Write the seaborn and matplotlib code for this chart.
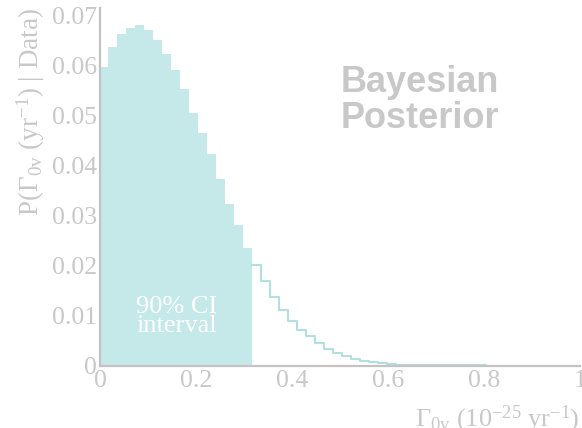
import matplotlib
matplotlib.use("Agg")
import matplotlib.pyplot as plt
import seaborn as sns
import pandas as pd
from matplotlib.ticker import MultipleLocator

# Posterior histogram (bin width 0.01875, first edge slightly below 0)
bin_start = -0.0015
bin_width = 0.01875
ci_values = [0.0599, 0.0637, 0.0664, 0.0677, 0.0682, 0.0672, 0.0652, 0.0624,
             0.0592, 0.0553, 0.0507, 0.0467, 0.0424, 0.0375, 0.0325, 0.0282,
             0.0237]
tail_values = [0.0203, 0.0171, 0.0139, 0.0113, 0.0090, 0.0072, 0.0060, 0.0047,
               0.0035, 0.0027, 0.0021, 0.0015, 0.0011, 0.0008, 0.0006, 0.0004,
               0.0003, 0.00025, 0.0002, 0.0002, 0.00018, 0.00016, 0.00015,
               0.00014, 0.00013, 0.00012]

x_ticks = [0, 0.2, 0.4, 0.6, 0.8, 1]
x_tick_labels = ["0", "0.2", "0.4", "0.6", "0.8", "1"]
y_ticks = [0, 0.01, 0.02, 0.03, 0.04, 0.05, 0.06, 0.07]
y_tick_labels = ["0", "0.01", "0.02", "0.03", "0.04", "0.05", "0.06", "0.07"]

GRAY = "#c8c8c8"
AXIS = "#c6c2c2"
FILL = "#c5e8e9"
LINE = "#b2dfe0"

sns.set_style("white")
plt.rcParams["font.family"] = ["Liberation Serif", "DejaVu Serif"]
plt.rcParams["mathtext.fontset"] = "custom"
plt.rcParams["mathtext.rm"] = "Liberation Serif"
plt.rcParams["mathtext.it"] = "Liberation Serif:italic"

n_ci = len(ci_values)
n_all = n_ci + len(tail_values)
edges = [bin_start + bin_width * i for i in range(n_all + 1)]
centers = [(edges[i] + edges[i + 1]) / 2 for i in range(n_all)]

ci_df = pd.DataFrame({"rate": centers[:n_ci], "p": ci_values})
tail_df = pd.DataFrame({"rate": centers[n_ci:], "p": tail_values})

fig = plt.figure(figsize=(5.82, 4.28), dpi=100)
ax = fig.add_axes([100 / 582, 1 - 366 / 428, 480 / 582, 358 / 428])

# outline of the tail
sns.histplot(data=tail_df, x="rate", weights="p", bins=edges[n_ci:],
             element="step", fill=False, color=LINE, linewidth=1.5, ax=ax)
# shaded 90% credible interval
sns.histplot(data=ci_df, x="rate", weights="p", bins=edges[:n_ci + 1],
             element="bars", fill=True, color=FILL, alpha=1, linewidth=0, ax=ax)

ax.set_xlim(0, 1)
ax.set_ylim(0, 0.0716)
ax.set_xticks(x_ticks)
ax.set_xticklabels(x_tick_labels)
ax.set_yticks(y_ticks)
ax.set_yticklabels(y_tick_labels)
ax.xaxis.set_minor_locator(MultipleLocator(0.05))
ax.yaxis.set_minor_locator(MultipleLocator(0.002))

ax.tick_params(axis="both", which="both", direction="in", colors=AXIS,
               labelcolor=GRAY, labelsize=18.5, width=1.2)
ax.tick_params(axis="y", which="major", length=11, pad=2)
ax.tick_params(axis="y", which="minor", length=5)
ax.tick_params(axis="x", which="major", length=7.5, pad=3)
ax.tick_params(axis="x", which="minor", length=3.8)

for side in ["top", "right"]:
    ax.spines[side].set_visible(False)
for side in ["left", "bottom"]:
    ax.spines[side].set_color(AXIS)
    ax.spines[side].set_linewidth(1.6)

ax.set_ylabel(r"P($\Gamma_{\mathrm{0v}}$ (yr$^{\mathrm{-1}}$) | Data)",
              color=GRAY, fontsize=19.5, loc="top", labelpad=4)
ax.set_xlabel(r"$\Gamma_{\mathrm{0v}}$ (10$^{\mathrm{-25}}$ yr$^{\mathrm{-1}}$)",
              color=GRAY, fontsize=19, loc="right", labelpad=8)

ax.text(0.16, 0.0099, "90% CI\ninterval", color="white", fontsize=19,
        ha="center", va="center", linespacing=0.8)

# baseline of the last line ("Posterior")
fig.text(341 / 582, 1 - 128 / 428, "Bayesian\nPosterior", color=GRAY,
         fontsize=26, fontweight="bold", family=["Liberation Sans", "DejaVu Sans"],
         ha="left", va="baseline", linespacing=1.05)

fig.savefig("out.png", dpi=100)
